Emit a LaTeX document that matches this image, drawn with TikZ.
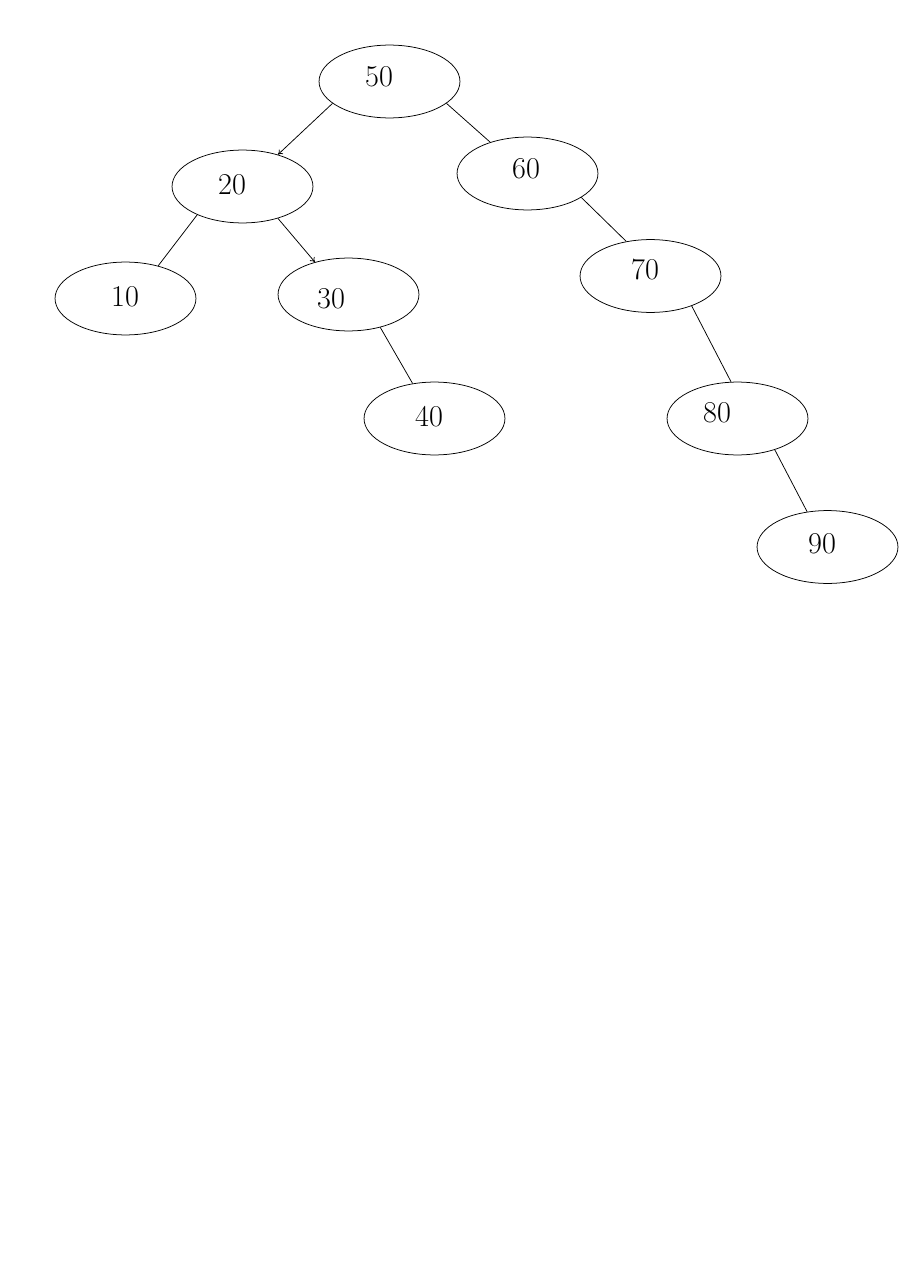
\documentclass[tikz,border=0pt]{standalone}
\usetikzlibrary{shapes.geometric,arrows.meta}
\begin{document}
\begin{tikzpicture}[x=0.6614pt,y=-0.6614pt,line width=0.5pt,
  keynode/.style={draw,ellipse,inner sep=0pt,minimum width=93.2pt,minimum height=48.2pt},
  keytext/.style={inner sep=0pt,font=\fontsize{20}{24}\selectfont},
  edge/.style={draw},
  arrowedge/.style={draw,-{To[length=3pt,width=4pt]}}]
\useasboundingbox (0,0) rectangle (900,1277);
% tree nodes
\node[keynode] (n50) at (389.5,81.5) {};
\node[keynode] (n20) at (242.5,186.5) {};
\node[keynode] (n60) at (527.5,173.5) {};
\node[keynode] (n10) at (125.5,298.5) {};
\node[keynode] (n30) at (348.5,294.5) {};
\node[keynode] (n70) at (650.5,276) {};
\node[keynode] (n40) at (434.5,418.5) {};
\node[keynode] (n80) at (737.5,418.5) {};
\node[keynode] (n90) at (827.5,547) {};
% key labels
\node[keytext] (t50) at (379,77) {50};
\node[keytext] (t20) at (232,185) {20};
\node[keytext] (t60) at (526,169) {60};
\node[keytext] (t10) at (125,297) {10};
\node[keytext] (t30) at (331,299) {30};
\node[keytext] (t70) at (645,270) {70};
\node[keytext] (t40) at (429,417) {40};
\node[keytext] (t80) at (717,413) {80};
\node[keytext] (t90) at (822,544) {90};
% links
\path[arrowedge] (n50.201) -- (n20.42);
\path[edge] (n50.-21) -- (n60.140);
\path[edge] (n20.212) -- (n10.45);
\path[arrowedge] (n20.-42) -- (n30.136);
\path[edge] (n60.-24) -- (n70.125);
\path[edge] (n30.-46) -- (n40.122);
\path[edge] (n70.-36) -- (n80.100);
\path[edge] (n80.-40) -- (n90.120);
\end{tikzpicture}
\end{document}
